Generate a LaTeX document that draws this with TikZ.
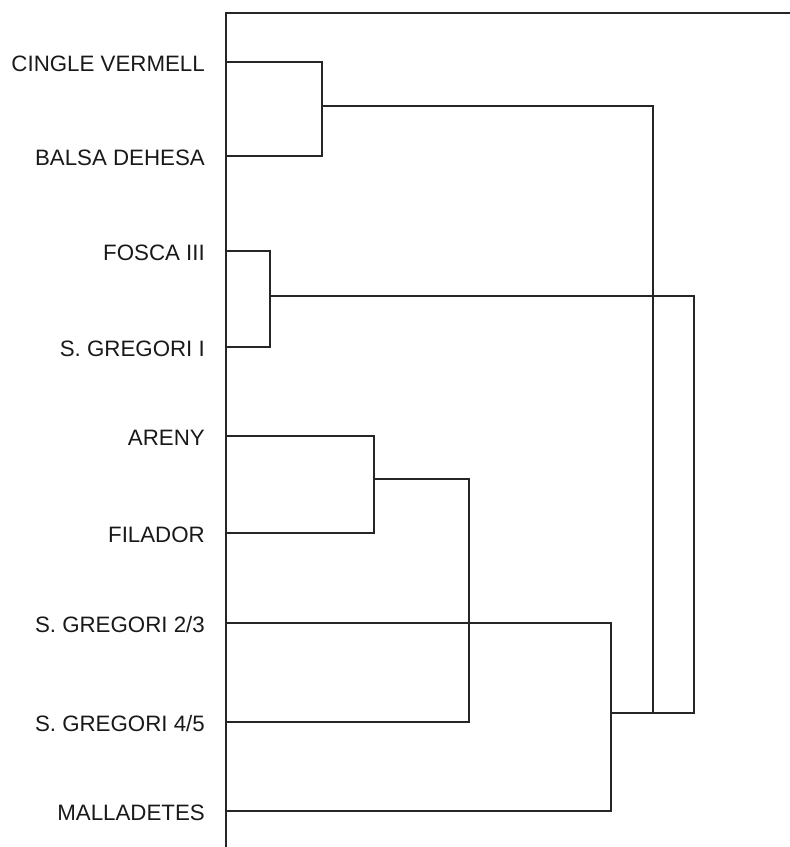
\documentclass[tikz,border=0pt]{standalone}
\usepackage{fontspec}
\setmainfont{Liberation Sans}
\begin{document}
\begin{tikzpicture}[x=1pt,y=-1pt,
  link/.style={draw=black!85,line width=1.6pt,line cap=rect},
  leaflabel/.style={anchor=base east,inner sep=0pt,font=\fontsize{22.3}{25}\selectfont,text=black!90}]
\useasboundingbox (0,0) rectangle (790,847);

% axis and frame line
\coordinate (axtop) at (226,13);
\coordinate (axbot) at (226,847);
\coordinate (frameend) at (790,13);
\draw[link] (axbot) -- (axtop) -- (frameend);

% leaves (label node + point on the axis)
\foreach \nm/\yy/\txt in {cv/62/{CINGLE VERMELL}, bd/156/{BALSA DEHESA}, fo/251/{FOSCA III},
  sgi/347/{S. GREGORI I}, ar/436/{ARENY}, fi/533/{FILADOR}, sga/623/{S. GREGORI 2/3},
  sgb/722/{S. GREGORI 4/5}, ma/811/{MALLADETES}}{
  \node[leaflabel] (l\nm) at (205,\yy+9.5) {\txt};
  \coordinate (\nm) at (226,\yy);
}

% merge heights
\coordinate (j1) at (322,106);  % cingle vermell + balsa dehesa
\coordinate (j2) at (270,296);  % fosca III + s. gregori I
\coordinate (j3) at (374,479);  % areny + filador
\coordinate (j4) at (469,600);  % + s. gregori 4/5
\coordinate (j5) at (611,713);  % s. gregori 2/3 + malladetes
\coordinate (k1) at (653,713);
\coordinate (k2) at (694,713);

% clusters
\draw[link] (cv) -- (cv -| j1) -- (bd -| j1) -- (bd);
\draw[link] (fo) -- (fo -| j2) -- (sgi -| j2) -- (sgi);
\draw[link] (ar) -- (ar -| j3) -- (fi -| j3) -- (fi);
\draw[link] (j3) -- (j3 -| j4) -- (sgb -| j4) -- (sgb);
\draw[link] (sga) -- (sga -| j5) -- (ma -| j5) -- (ma);

% upper links
\draw[link] (j1) -- (j1 -| k1) -- (k1);
\draw[link] (j2) -- (j2 -| k2) -- (k2);
\draw[link] (j5) -- (k2);
\end{tikzpicture}
\end{document}
